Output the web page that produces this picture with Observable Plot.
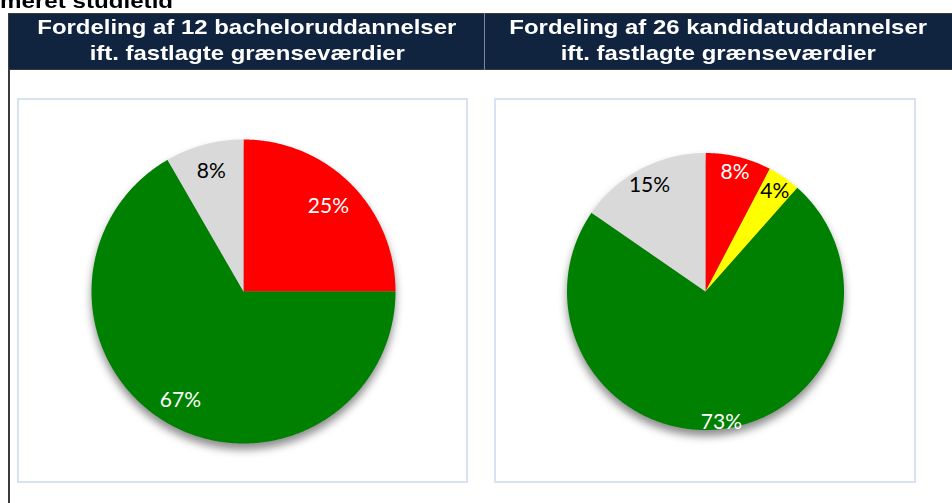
<!DOCTYPE html>
<html>
<head>
<meta charset="utf-8">
<script src="https://cdn.jsdelivr.net/npm/d3@7"></script>
<script src="https://cdn.jsdelivr.net/npm/@observablehq/plot@0.6"></script>
<style>
  body { margin: 0; background: #fff; }
  #page { position: relative; width: 952px; height: 503px; overflow: hidden; background: #fff;
          font-family: Arial, "Liberation Sans", sans-serif; }
  #cut { position: absolute; left: 0; top: -12px; font-weight: bold; font-size: 21px; line-height: 26px;
         color: #000; white-space: nowrap; transform: scaleX(1.15); transform-origin: left center; }
  #hdr { position: absolute; left: 8px; top: 13px; width: 944px; height: 57px; box-sizing: border-box;
         background: #10233f; border: 1px solid #3c3c3c; border-right: none; }
  .hcell { position: absolute; top: 1px; height: 56px; color: #fff; font-weight: bold; font-size: 21px;
           line-height: 26px; text-align: center; }
  .hcell div { white-space: nowrap; }
  .hcell span { display: inline-block; transform: scaleX(1.14); transform-origin: center; }
  #divider { position: absolute; left: 484px; top: 13px; width: 1px; height: 57px; background: #7d8796; }
  #bodyline { position: absolute; left: 8px; top: 70px; width: 2px; height: 440px; background: #3a3a3a; }
  .panel { position: absolute; top: 98px; height: 385px; box-sizing: border-box; border: 2px solid #d7e2f3; }
  .panel svg { position: absolute; left: 0; top: 0; }
</style>
</head>
<body>
<div id="page">
  <div id="cut">meret studietid</div>
  <div id="hdr"></div>
  <div class="hcell" id="h1" style="left:9px;width:476px;top:14px"></div>
  <div class="hcell" id="h2" style="left:485px;width:467px;top:14px"></div>
  <div id="divider"></div>
  <div id="bodyline"></div>
  <div class="panel" id="p1" style="left:17px;width:451px"></div>
  <div class="panel" id="p2" style="left:494px;width:422px"></div>
</div>
<script>
// ---- data ----
const bachelorCategories = ["Over grænseværdi", "Inden for grænseværdi", "Ingen data"];
const bachelorCounts = [3, 8, 1];
const kandidatCategories = ["Over grænseværdi", "Tæt på grænseværdi", "Inden for grænseværdi", "Ingen data"];
const kandidatCounts = [2, 1, 19, 4];
const bachelorTitle = ["Fordeling af 12 bacheloruddannelser", "ift. fastlagte grænseværdier"];
const kandidatTitle = ["Fordeling af 26 kandidatuddannelser", "ift. fastlagte grænseværdier"];

// ---- styles ----
const categoryColors = {
  "Over grænseværdi": "#ff0000",
  "Tæt på grænseværdi": "#ffff00",
  "Inden for grænseværdi": "#008000",
  "Ingen data": "#d9d9d9"
};
const labelInk = {
  "Over grænseværdi": "white",
  "Tæt på grænseværdi": "black",
  "Inden for grænseværdi": "white",
  "Ingen data": "black"
};

function setTitle(id, lines) {
  const el = document.getElementById(id);
  lines.forEach(t => {
    const d = document.createElement("div");
    const s = document.createElement("span");
    s.textContent = t;
    d.appendChild(s);
    el.appendChild(d);
  });
}
setTitle("h1", bachelorTitle);
setTitle("h2", kandidatTitle);

function pieChart({categories, counts, labelRadius, width, height, cx, cy, R}) {
  const total = d3.sum(counts);
  const arcs = d3.pie().sort(null).value(d => d)(counts);
  const pts = [];
  arcs.forEach((a, i) => {
    const cat = categories[i];
    pts.push({cat, x: 0, y: 0});
    const n = Math.max(2, Math.ceil((a.endAngle - a.startAngle) / (Math.PI / 360)));
    for (let k = 0; k <= n; k++) {
      const t = a.startAngle + (a.endAngle - a.startAngle) * k / n;
      pts.push({cat, x: Math.sin(t), y: Math.cos(t)});
    }
    pts.push({cat, x: 0, y: 0});
  });
  const labels = arcs.map((a, i) => {
    const m = (a.startAngle + a.endAngle) / 2, rr = labelRadius[i];
    return {cat: categories[i], x: rr * Math.sin(m), y: rr * Math.cos(m),
            text: Math.round(counts[i] / total * 100) + "%", ink: labelInk[categories[i]]};
  });
  const svg = Plot.plot({
    width, height, margin: 0,
    x: {domain: [-cx / R, (width - cx) / R], axis: null},
    y: {domain: [-(height - cy) / R, cy / R], axis: null},
    color: {domain: categories, range: categories.map(c => categoryColors[c])},
    style: {background: "transparent", fontFamily: "Lato, 'Open Sans', sans-serif", overflow: "visible"},
    marks: [
      Plot.line(pts, {x: "x", y: "y", z: "cat", fill: "cat", stroke: "none", curve: "linear"}),
      Plot.text(labels.filter(d => d.ink === "white"), {x: "x", y: "y", text: "text", fill: "white", fontSize: 21}),
      Plot.text(labels.filter(d => d.ink === "black"), {x: "x", y: "y", text: "text", fill: "black", fontSize: 21})
    ]
  });
  d3.select(svg).select('g[aria-label="line"]')
    .style("filter", "drop-shadow(0px 6px 4px rgba(0,0,0,0.45))");
  return svg;
}

document.getElementById("p1").appendChild(pieChart({
  categories: bachelorCategories, counts: bachelorCounts,
  labelRadius: [0.79, 0.83, 0.82],
  width: 447, height: 381, cx: 224, cy: 191, R: 152
}));
document.getElementById("p2").appendChild(pieChart({
  categories: kandidatCategories, counts: kandidatCounts,
  labelRadius: [0.89, 0.88, 0.95, 0.87],
  width: 418, height: 381, cx: 209, cy: 191, R: 138.5
}));
</script>
</body>
</html>
